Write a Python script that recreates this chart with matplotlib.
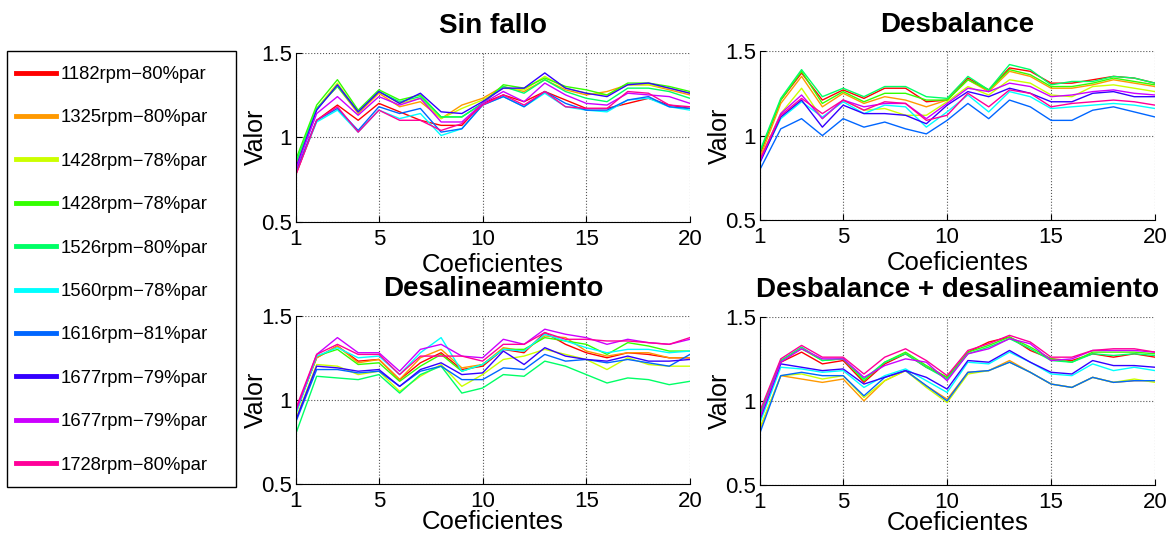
import numpy as np
import matplotlib
matplotlib.use("Agg")
from matplotlib import pyplot as plt
from matplotlib.patches import Rectangle

plt.rcParams['font.family'] = ['Liberation Sans', 'DejaVu Sans']

# Coeficientes 1..20
coef = np.arange(1, 21)

labels = ['1182rpm\u221280%par', '1325rpm\u221280%par', '1428rpm\u221278%par',
          '1428rpm\u221278%par', '1526rpm\u221280%par', '1560rpm\u221278%par',
          '1616rpm\u221281%par', '1677rpm\u221279%par', '1677rpm\u221279%par',
          '1728rpm\u221280%par']

# colores hsv(10) como en MATLAB
colors = ['#ff0000', '#ff9900', '#ccff00', '#33ff00', '#00ff66',
          '#00ffff', '#0066ff', '#3300ff', '#cc00ff', '#ff0099']

titles = ['Sin fallo', 'Desbalance', 'Desalineamiento', 'Desbalance + desalineamiento']

# Sin fallo
sin_fallo = [
    [0.78, 1.10, 1.19, 1.10, 1.20, 1.15, 1.10, 1.07, 1.07, 1.20, 1.25, 1.21, 1.27, 1.22, 1.17, 1.17, 1.20, 1.23, 1.19, 1.17],
    [0.84, 1.17, 1.30, 1.14, 1.26, 1.18, 1.21, 1.11, 1.19, 1.23, 1.30, 1.27, 1.34, 1.28, 1.25, 1.27, 1.31, 1.31, 1.28, 1.25],
    [0.85, 1.17, 1.32, 1.15, 1.27, 1.20, 1.23, 1.11, 1.17, 1.22, 1.29, 1.28, 1.36, 1.29, 1.26, 1.25, 1.31, 1.31, 1.29, 1.26],
    [0.87, 1.19, 1.34, 1.16, 1.28, 1.22, 1.25, 1.12, 1.12, 1.20, 1.31, 1.29, 1.35, 1.30, 1.28, 1.25, 1.32, 1.32, 1.30, 1.27],
    [0.85, 1.17, 1.30, 1.15, 1.27, 1.21, 1.24, 1.12, 1.12, 1.20, 1.30, 1.26, 1.34, 1.27, 1.23, 1.21, 1.29, 1.29, 1.27, 1.23],
    [0.79, 1.09, 1.16, 1.03, 1.16, 1.11, 1.14, 1.01, 1.05, 1.19, 1.24, 1.18, 1.26, 1.18, 1.16, 1.15, 1.22, 1.23, 1.18, 1.16],
    [0.80, 1.10, 1.17, 1.04, 1.18, 1.14, 1.17, 1.03, 1.05, 1.19, 1.24, 1.18, 1.27, 1.20, 1.16, 1.16, 1.22, 1.24, 1.18, 1.17],
    [0.82, 1.16, 1.31, 1.15, 1.27, 1.20, 1.26, 1.15, 1.14, 1.21, 1.29, 1.29, 1.38, 1.29, 1.26, 1.24, 1.31, 1.32, 1.29, 1.26],
    [0.81, 1.14, 1.24, 1.13, 1.24, 1.19, 1.23, 1.09, 1.09, 1.20, 1.27, 1.21, 1.32, 1.25, 1.20, 1.19, 1.26, 1.25, 1.24, 1.20],
    [0.78, 1.10, 1.18, 1.03, 1.16, 1.10, 1.10, 1.04, 1.08, 1.19, 1.25, 1.19, 1.27, 1.18, 1.17, 1.17, 1.27, 1.26, 1.19, 1.18],
]

# Desbalance
desbalance = [
    [0.89, 1.21, 1.37, 1.21, 1.27, 1.22, 1.28, 1.28, 1.20, 1.21, 1.34, 1.27, 1.40, 1.38, 1.31, 1.31, 1.33, 1.35, 1.34, 1.31],
    [0.87, 1.19, 1.35, 1.17, 1.25, 1.19, 1.23, 1.21, 1.17, 1.21, 1.33, 1.26, 1.38, 1.35, 1.28, 1.28, 1.30, 1.33, 1.31, 1.29],
    [0.86, 1.13, 1.28, 1.10, 1.21, 1.15, 1.16, 1.12, 1.12, 1.20, 1.29, 1.24, 1.33, 1.31, 1.24, 1.23, 1.29, 1.30, 1.28, 1.26],
    [0.90, 1.21, 1.38, 1.19, 1.26, 1.20, 1.25, 1.25, 1.21, 1.21, 1.33, 1.27, 1.39, 1.36, 1.29, 1.29, 1.31, 1.34, 1.32, 1.30],
    [0.91, 1.22, 1.39, 1.23, 1.28, 1.23, 1.29, 1.29, 1.23, 1.22, 1.35, 1.27, 1.42, 1.39, 1.30, 1.32, 1.32, 1.35, 1.34, 1.31],
    [0.85, 1.10, 1.20, 1.11, 1.20, 1.13, 1.18, 1.17, 1.05, 1.14, 1.24, 1.14, 1.26, 1.23, 1.16, 1.17, 1.18, 1.19, 1.18, 1.16],
    [0.80, 1.04, 1.10, 1.00, 1.10, 1.05, 1.08, 1.04, 1.01, 1.09, 1.19, 1.10, 1.21, 1.17, 1.09, 1.09, 1.15, 1.17, 1.14, 1.11],
    [0.84, 1.11, 1.21, 1.05, 1.18, 1.13, 1.13, 1.12, 1.07, 1.18, 1.26, 1.23, 1.28, 1.25, 1.20, 1.20, 1.25, 1.26, 1.23, 1.23],
    [0.85, 1.13, 1.24, 1.10, 1.21, 1.17, 1.19, 1.19, 1.10, 1.19, 1.28, 1.26, 1.31, 1.29, 1.23, 1.24, 1.26, 1.27, 1.25, 1.24],
    [0.86, 1.12, 1.22, 1.13, 1.21, 1.15, 1.20, 1.19, 1.09, 1.12, 1.25, 1.17, 1.27, 1.25, 1.17, 1.19, 1.20, 1.21, 1.20, 1.18],
]

# Desalineamiento
desalineamiento = [
    [0.94, 1.25, 1.32, 1.23, 1.24, 1.12, 1.22, 1.28, 1.18, 1.20, 1.30, 1.28, 1.40, 1.33, 1.28, 1.25, 1.28, 1.27, 1.25, 1.25],
    [0.93, 1.25, 1.32, 1.22, 1.24, 1.12, 1.25, 1.30, 1.19, 1.21, 1.31, 1.29, 1.38, 1.37, 1.29, 1.26, 1.28, 1.28, 1.25, 1.25],
    [0.89, 1.21, 1.20, 1.15, 1.17, 1.05, 1.14, 1.21, 1.08, 1.15, 1.24, 1.26, 1.30, 1.27, 1.24, 1.18, 1.25, 1.21, 1.20, 1.20],
    [0.92, 1.26, 1.30, 1.21, 1.22, 1.11, 1.20, 1.27, 1.17, 1.21, 1.30, 1.30, 1.37, 1.35, 1.33, 1.27, 1.34, 1.32, 1.29, 1.29],
    [0.80, 1.14, 1.13, 1.12, 1.15, 1.04, 1.15, 1.20, 1.04, 1.07, 1.15, 1.14, 1.23, 1.20, 1.15, 1.10, 1.13, 1.12, 1.09, 1.11],
    [0.92, 1.26, 1.31, 1.25, 1.26, 1.15, 1.28, 1.37, 1.17, 1.21, 1.30, 1.29, 1.39, 1.35, 1.31, 1.28, 1.30, 1.30, 1.28, 1.29],
    [0.87, 1.18, 1.18, 1.16, 1.17, 1.08, 1.17, 1.20, 1.12, 1.12, 1.19, 1.18, 1.27, 1.23, 1.24, 1.22, 1.24, 1.22, 1.20, 1.27],
    [0.88, 1.20, 1.19, 1.17, 1.18, 1.08, 1.18, 1.22, 1.15, 1.16, 1.29, 1.21, 1.31, 1.26, 1.24, 1.23, 1.26, 1.23, 1.23, 1.24],
    [0.93, 1.27, 1.37, 1.28, 1.28, 1.17, 1.30, 1.33, 1.26, 1.25, 1.36, 1.33, 1.42, 1.39, 1.37, 1.33, 1.36, 1.34, 1.33, 1.36],
    [0.95, 1.27, 1.33, 1.27, 1.27, 1.15, 1.26, 1.26, 1.26, 1.23, 1.33, 1.33, 1.40, 1.36, 1.36, 1.35, 1.35, 1.34, 1.33, 1.37],
]

# Desbalance + desalineamiento
desb_desal = [
    [0.92, 1.23, 1.29, 1.22, 1.24, 1.11, 1.22, 1.28, 1.20, 1.14, 1.29, 1.35, 1.38, 1.30, 1.25, 1.24, 1.28, 1.26, 1.28, 1.26],
    [0.83, 1.15, 1.13, 1.11, 1.13, 1.00, 1.12, 1.18, 1.09, 1.01, 1.17, 1.18, 1.24, 1.17, 1.10, 1.08, 1.14, 1.11, 1.12, 1.12],
    [0.84, 1.15, 1.16, 1.13, 1.15, 1.02, 1.12, 1.18, 1.08, 0.99, 1.16, 1.18, 1.23, 1.17, 1.10, 1.08, 1.14, 1.11, 1.13, 1.11],
    [0.93, 1.24, 1.31, 1.24, 1.25, 1.12, 1.23, 1.29, 1.21, 1.14, 1.29, 1.33, 1.38, 1.32, 1.25, 1.23, 1.29, 1.29, 1.29, 1.28],
    [0.92, 1.24, 1.32, 1.24, 1.25, 1.13, 1.23, 1.28, 1.20, 1.13, 1.28, 1.32, 1.37, 1.31, 1.24, 1.23, 1.28, 1.27, 1.28, 1.27],
    [0.87, 1.20, 1.19, 1.17, 1.18, 1.08, 1.15, 1.19, 1.12, 1.05, 1.23, 1.22, 1.29, 1.23, 1.16, 1.15, 1.22, 1.18, 1.20, 1.18],
    [0.81, 1.15, 1.17, 1.15, 1.15, 1.03, 1.14, 1.18, 1.09, 1.00, 1.17, 1.18, 1.23, 1.17, 1.10, 1.08, 1.14, 1.11, 1.12, 1.12],
    [0.89, 1.22, 1.20, 1.18, 1.19, 1.10, 1.14, 1.18, 1.14, 1.07, 1.24, 1.23, 1.30, 1.23, 1.17, 1.16, 1.24, 1.21, 1.21, 1.20],
    [0.90, 1.23, 1.31, 1.25, 1.25, 1.14, 1.21, 1.25, 1.23, 1.12, 1.28, 1.31, 1.37, 1.34, 1.24, 1.25, 1.30, 1.30, 1.30, 1.29],
    [0.94, 1.25, 1.33, 1.26, 1.26, 1.16, 1.26, 1.31, 1.24, 1.15, 1.30, 1.34, 1.39, 1.35, 1.26, 1.26, 1.30, 1.31, 1.31, 1.29],
]

paneles = [sin_fallo, desbalance, desalineamiento, desb_desal]

W, H = 1173, 537
fig = plt.figure(figsize=(W / 100, H / 100), dpi=100)

# posiciones de los ejes (fracciones de figura)
rects = [[0.2523, 0.587, 0.3359, 0.315],
         [0.6479, 0.590, 0.3368, 0.315],
         [0.2523, 0.099, 0.3359, 0.313],
         [0.6479, 0.097, 0.3368, 0.313]]

lines = []
for i in range(4):
    ax = fig.add_axes(rects[i])
    for j in range(10):
        l, = ax.plot(coef, paneles[i][j], color=colors[j], lw=1.0, label=labels[j])
        if i == 0:
            lines.append(l)
    ax.set_xlim(1, 20)
    ax.set_ylim(0.5, 1.5)
    ax.set_xticks([1, 5, 10, 15, 20])
    ax.set_yticks([0.5, 1, 1.5])
    ax.set_yticklabels(['0.5', '1', '1.5'])
    ax.grid(True, linestyle=':', color='#555555', lw=0.8)
    ax.spines['top'].set_visible(False)
    ax.spines['right'].set_visible(False)
    ax.tick_params(direction='in', length=4, labelsize=16)
    ax.tick_params(axis='x', pad=5)
    ax.tick_params(axis='y', pad=3)
    ax.set_xlabel('Coeficientes', fontsize=18.5, labelpad=2 if i < 2 else -1)
    ax.set_ylabel('Valor', fontsize=18, labelpad=-5)
    ax.set_title(titles[i], fontsize=20, fontweight='bold', pad=14)

# caja de la leyenda
fig.add_artist(Rectangle((7 / W, 1 - 487 / H), 229 / W, 436 / H,
                         transform=fig.transFigure, fill=False,
                         edgecolor='black', lw=1.0))

leg = fig.legend(handles=lines, loc='upper left',
                 bbox_to_anchor=(16 / W, 1 - 66 / H),
                 fontsize=13.3, frameon=False, handlelength=2.16,
                 handletextpad=0.27, labelspacing=1.43,
                 borderaxespad=0, borderpad=0)
for h in leg.legend_handles:
    h.set_linewidth(3.5)

fig.savefig('out.png', dpi=100)
